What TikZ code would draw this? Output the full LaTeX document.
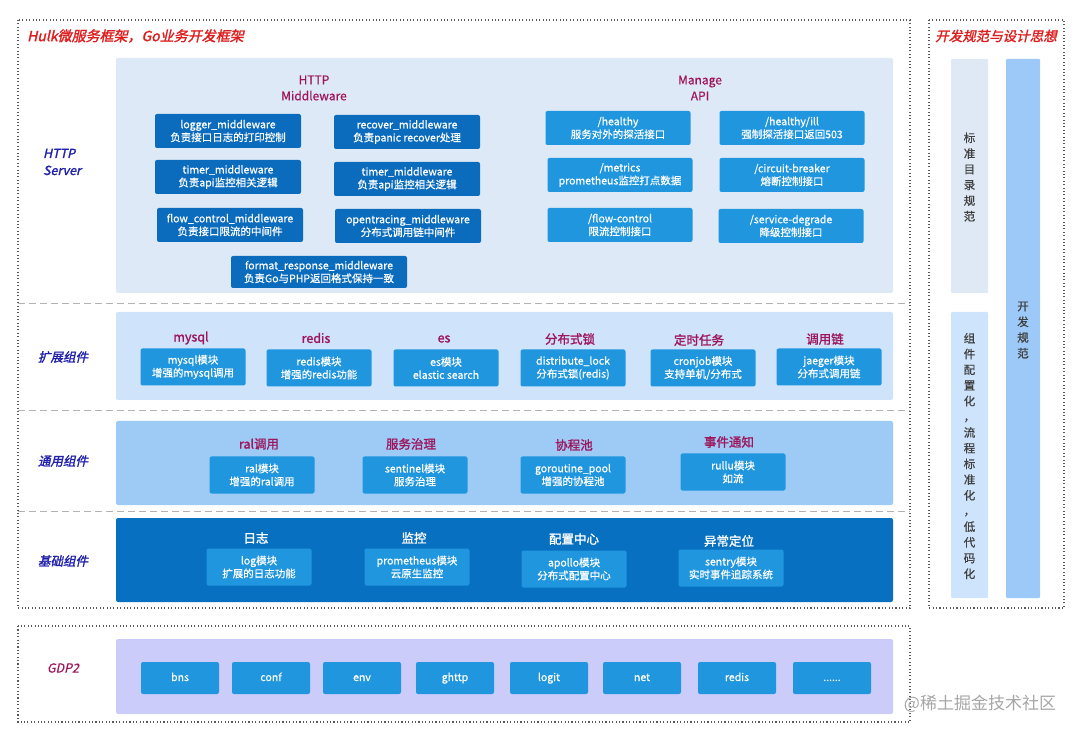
\documentclass[tikz,border=0pt]{standalone}
\usepackage{fontspec}
\setmainfont{Noto Sans CJK SC}
\newfontfamily\cjkmedium{Noto Sans CJK SC}[FakeBold=0.7]
\newfontfamily\cjkbold{Noto Sans CJK SC}[FakeBold=1.6]
\newfontfamily\cjkslant{Noto Sans CJK SC}[FakeBold=1.8,FakeSlant=0.22]
\newfontfamily\cjkitalic{Noto Sans CJK SC}[FakeBold=0.6,FakeSlant=0.22]
\usepackage{tikz}
\usetikzlibrary{positioning}
\usepackage{xcolor}

\definecolor{panelhttp}{RGB}{221,233,246}
\definecolor{panelext}{RGB}{207,228,251}
\definecolor{panelcommon}{RGB}{157,203,246}
\definecolor{panelbase}{RGB}{8,112,193}
\definecolor{panelgdp}{RGB}{204,204,251}
\definecolor{mwblue}{RGB}{11,108,189}
\definecolor{modblue}{RGB}{32,150,222}
\definecolor{titlered}{RGB}{222,30,30}
\definecolor{groupmaroon}{RGB}{158,22,92}
\definecolor{layerindigo}{RGB}{32,32,172}
\definecolor{colA}{RGB}{222,233,245}
\definecolor{colB}{RGB}{206,228,252}
\definecolor{colC}{RGB}{156,201,247}

\begin{document}
\begin{tikzpicture}[x=1pt,y=-1pt,every node/.style={font=\cjkmedium\fontsize{10.5}{13}\selectfont,inner sep=0pt},
  dotbox/.style={draw=black!65,line width=1.1pt,dash pattern=on 1.1pt off 2.3pt},
  sepline/.style={draw=black!30,line width=0.9pt,dash pattern=on 7pt off 4pt},
  mwbox/.style={fill=mwblue,text=white,rounded corners=2pt,minimum width=146,minimum height=34,align=center},
  apibox/.style={fill=modblue,text=white,rounded corners=2pt,minimum width=145,minimum height=34,align=center},
  modbox/.style={fill=modblue,text=white,rounded corners=2pt,minimum width=105,minimum height=37,align=center},
  gdpbox/.style={fill=modblue,text=white,rounded corners=2pt,minimum width=78,minimum height=32,text height=8,text depth=2},
  grouptitle/.style={text=groupmaroon,font=\cjkbold\fontsize{12.5}{16}\selectfont,align=center},
  layerlabel/.style={text=layerindigo,font=\cjkslant\fontsize{12.5}{17}\selectfont,align=left},
  colstack/.style={text=black!75,font=\cjkmedium\fontsize{11.5}{15.7}\selectfont,align=center}]
\useasboundingbox (0,0) rectangle (1080,735);

% outer frames
\draw[dotbox] (18,20) rectangle (910,608);
\draw[dotbox] (929,20) rectangle (1064,608);
\draw[dotbox] (18,626) rectangle (910,722);
\node[anchor=west,text=titlered,font=\cjkslant\fontsize{14}{16}\selectfont] (maintitle) at (27,36) {Hulk微服务框架，Go业务开发框架};
\node[text=titlered,font=\cjkslant\fontsize{13.5}{16}\selectfont] (spectitle) at (996,36) {开发规范与设计思想};

% layer panels
\fill[panelhttp,rounded corners=2pt] (116,58) rectangle (893,293);
\fill[panelext,rounded corners=2pt] (116,312) rectangle (893,400);
\fill[panelcommon,rounded corners=2pt] (116,421) rectangle (893,505);
\fill[panelbase,rounded corners=2pt] (116,518) rectangle (893,602);
\fill[panelgdp,rounded corners=2pt] (116,639) rectangle (893,714);
\draw[sepline] (18,303) -- (910,303);
\draw[sepline] (18,410) -- (910,410);
\draw[sepline] (18,511) -- (910,511);

% layer labels
\node[layerlabel] (httpserver) at (62,162) {HTTP\\Server};
\node[layerlabel] (extlayer) at (63,357) {扩展组件};
\node[layerlabel] (commonlayer) at (63,461) {通用组件};
\node[layerlabel] (baselayer) at (63,561) {基础组件};
\node[text=groupmaroon,font=\cjkitalic\fontsize{12.5}{16}\selectfont] (gdplabel) at (63,668) {GDP2};

% HTTP middleware
\node[grouptitle,font=\cjkmedium\fontsize{12}{16}\selectfont] (mwtitle) at (314,88) {HTTP\\Middleware};
\node[mwbox] (logger) at (228,131) {logger\_middleware\\负责接口日志的打印控制};
\node[mwbox] (recover) at (407,132) {recover\_middleware\\负责panic recover处理};
\node[mwbox] (timerA) at (228,177) {timer\_middleware\\负责api监控相关逻辑};
\node[mwbox] (timerB) at (407,179) {timer\_middleware\\负责api监控相关逻辑};
\node[mwbox] (flowctl) at (230,225) {flow\_control\_middleware\\负责接口限流的中间件};
\node[mwbox] (tracing) at (408,226) {opentracing\_middleware\\分布式调用链中间件};
\node[mwbox,minimum width=176,minimum height=32] (formatresp) at (319,272) {format\_response\_middleware\\负责Go与PHP返回格式保持一致};

% manage api
\node[grouptitle,font=\cjkmedium\fontsize{12}{16}\selectfont] (apititle) at (700,88) {Manage\\API};
\node[apibox] (healthy) at (618,128) {/healthy\\服务对外的探活接口};
\node[apibox] (healthyill) at (792,128) {/healthy/ill\\强制探活接口返回503};
\node[apibox] (metrics) at (620,175) {/metrics\\prometheus监控打点数据};
\node[apibox] (breaker) at (792,175) {/circuit-breaker\\熔断控制接口};
\node[apibox] (flowapi) at (620,225) {/flow-control\\限流控制接口};
\node[apibox] (degrade) at (791,226) {/service-degrade\\降级控制接口};

% extension components
\node[grouptitle] (mysqlt) at (191,338) {mysql};
\node[modbox] (mysql) at (193,367) {mysql模块\\增强的mysql调用};
\node[grouptitle] (redist) at (316,338) {redis};
\node[modbox] (redis) at (319,368) {redis模块\\增强的redis功能};
\node[grouptitle] (est) at (444,339) {es};
\node[modbox] (es) at (446,368) {es模块\\elastic search};
\node[grouptitle] (lockt) at (570,339) {分布式锁};
\node[modbox] (lock) at (573,368) {distribute\_lock\\分布式锁(redis)};
\node[grouptitle] (cront) at (699,340) {定时任务};
\node[modbox] (cron) at (703,368) {cronjob模块\\支持单机/分布式};
\node[grouptitle] (jaegert) at (825,339) {调用链};
\node[modbox] (jaeger) at (829,367) {jaeger模块\\分布式调用链};

% common components
\node[grouptitle] (ralt) at (259,444) {ral调用};
\node[modbox] (ral) at (262,475) {ral模块\\增强的ral调用};
\node[grouptitle] (sentinelt) at (411,444) {服务治理};
\node[modbox] (sentinel) at (415,475) {sentinel模块\\服务治理};
\node[grouptitle] (poolt) at (574,445) {协程池};
\node[modbox] (pool) at (573,475) {goroutine\_pool\\增强的协程池};
\node[grouptitle] (notifyt) at (729,442) {事件通知};
\node[modbox] (notify) at (733,472) {rullu模块\\如流};

% base components
\node[grouptitle,text=white] (logt) at (256,538) {日志};
\node[modbox] (logmod) at (259,567) {log模块\\扩展的日志功能};
\node[grouptitle,text=white] (promt) at (414,538) {监控};
\node[modbox] (prom) at (417,567) {prometheus模块\\云原生监控};
\node[grouptitle,text=white] (apollot) at (574,539) {配置中心};
\node[modbox] (apollo) at (574,569) {apollo模块\\分布式配置中心};
\node[grouptitle,text=white] (sentryt) at (729,541) {异常定位};
\node[modbox] (sentry) at (731,568) {sentry模块\\实时事件追踪系统};

% gdp2
\node[gdpbox] (bns) at (180,678) {bns};
\node[gdpbox] (conf) at (271,678) {conf};
\node[gdpbox] (env) at (362,678) {env};
\node[gdpbox] (ghttp) at (455,678) {ghttp};
\node[gdpbox] (logit) at (549,678) {logit};
\node[gdpbox] (net) at (642,678) {net};
\node[gdpbox] (gredis) at (737,678) {redis};
\node[gdpbox] (more) at (832,678) {......};

% spec columns
\fill[colA,rounded corners=1pt] (951,59) rectangle (988,293);
\fill[colB,rounded corners=1pt] (951,312) rectangle (988,598);
\fill[colC,rounded corners=1pt] (1006,59) rectangle (1040,598);
\node[colstack] (dirspec) at (969.5,177) {标\\准\\目\\录\\规\\范};
\node[colstack] (cfgspec) at (969.5,456) {组\\件\\配\\置\\化\\，\\流\\程\\标\\准\\化\\，\\低\\代\\码\\化};
\node[colstack] (devspec) at (1023,330) {开\\发\\规\\范};

\node[text=black!35,font=\fontsize{17}{20}\selectfont] (mark) at (980,704) {@稀土掘金技术社区};
\end{tikzpicture}
\end{document}
